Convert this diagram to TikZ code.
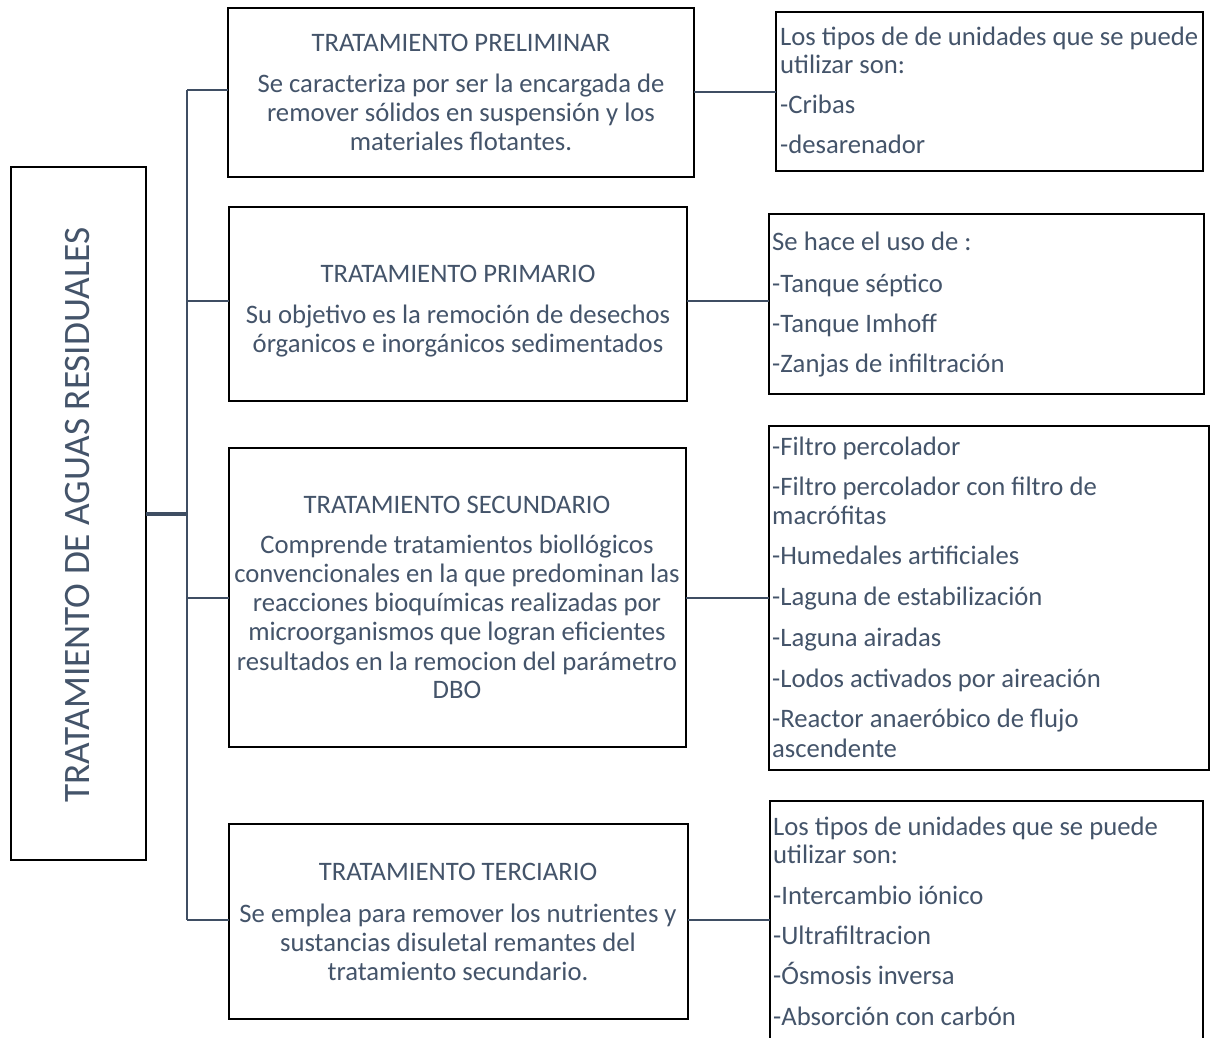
\documentclass[tikz,border=0pt]{standalone}
\usepackage{fontspec}
\setmainfont{Carlito}
\definecolor{txt}{HTML}{44546A}
\definecolor{ln}{HTML}{3F4E63}
\begin{document}
\begin{tikzpicture}[x=1pt,y=-1pt,
  box/.style={draw=black, line width=1.7pt, inner sep=0pt, outer sep=0pt, fill=white},
  conn/.style={draw=ln, line width=2.8pt},
  ctext/.style={anchor=base, text=txt, inner sep=0pt, font=\fontsize{26.67}{29.3}\selectfont},
  item/.style={anchor=base west, text=txt, inner sep=0pt, font=\fontsize{26.67}{29.3}\selectfont},
]
\clip (0,0) rectangle (1216,1038);
\fill[white] (0,0) rectangle (1216,1038);

% boxes
\node[box, minimum width=135, minimum height=693] (L) at (78.5,513.5) {};
\node[box, minimum width=466, minimum height=169] (b1) at (461,92.5) {};
\node[box, minimum width=458, minimum height=194] (b2) at (458,304) {};
\node[box, minimum width=457, minimum height=299] (b3) at (457.5,597.5) {};
\node[box, minimum width=459, minimum height=195] (b4) at (458.5,921.5) {};
\node[box, minimum width=427, minimum height=159] (r1) at (989.5,91.5) {};
\node[box, minimum width=435, minimum height=180] (r2) at (986.5,304) {};
\node[box, minimum width=440, minimum height=344] (r3) at (989,598) {};
\node[box, minimum width=433, minimum height=259] (r4) at (986.5,930.5) {};

% left rotated title
\node[anchor=base, rotate=90, text=txt, inner sep=0pt, font=\fontsize{37.3}{40}\selectfont] (Lt) at (89.5,515) {TRATAMIENTO DE AGUAS RESIDUALES};

% connectors
\coordinate (jm) at (187,514);
\coordinate (jt) at (187,90);
\coordinate (jb) at (187,920);
\draw[ln, line width=4.3pt] (L.east |- jm) -- (jm);
\draw[conn] (jt) -- (jb);
\draw[conn] (jt) -- (jt -| b1.west);
\draw[conn] (187,301) -- (b2.west |- 0,301);
\draw[conn] (187,598) -- (b3.west |- 0,598);
\draw[conn] (jb) -- (jb -| b4.west);
\draw[conn] (b1.east |- 0,92) -- (r1.west |- 0,92);
\draw[conn] (b2.east |- 0,301) -- (r2.west |- 0,301);
\draw[conn] (b3.east |- 0,598) -- (r3.west |- 0,598);
\draw[conn] (b4.east |- 0,920) -- (r4.west |- 0,920);

% box 1
\node[ctext] (b1t) at (461,52) {TRATAMIENTO PRELIMINAR};
\foreach \y/\t [count=\i] in {93/{Se caracteriza por ser la encargada de},122/{remover sólidos en suspensión y los},150/{materiales flotantes.}}
  \node[ctext] (b1l\i) at (461,\y) {\t};
% box 2
\node[ctext] (b2t) at (458,282) {TRATAMIENTO PRIMARIO};
\foreach \y/\t [count=\i] in {323/{Su objetivo es la remoción de desechos},352/{órganicos e inorgánicos sedimentados}}
  \node[ctext] (b2l\i) at (458,\y) {\t};
% box 3
\node[ctext] (b3t) at (457,513) {TRATAMIENTO SECUNDARIO};
\foreach \y/\t [count=\i] in {553/{Comprende tratamientos biollógicos},582/{convencionales en la que predominan las},611/{reacciones bioquímicas realizadas por},640/{microorganismos que logran eficientes},670/{resultados en la remocion del parámetro},698/{DBO}}
  \node[ctext] (b3l\i) at (457,\y) {\t};
% box 4
\node[ctext] (b4t) at (458,880) {TRATAMIENTO TERCIARIO};
\foreach \y/\t [count=\i] in {922/{Se emplea para remover los nutrientes y},951/{sustancias disuletal remantes del},980/{tratamiento secundario.}}
  \node[ctext] (b4l\i) at (458,\y) {\t};

% right boxes
\foreach \y/\t [count=\i] in {46/{Los tipos de de unidades que se puede},74/{utilizar son:},114/{-Cribas},154/{-desarenador}}
  \node[item] (r1l\i) at (780,\y) {\t};
\foreach \y/\t [count=\i] in {250/{Se hace el uso de :},292/{-Tanque séptico},332/{-Tanque Imhoff},372/{-Zanjas de infiltración}}
  \node[item] (r2l\i) at (772,\y) {\t};
\foreach \y/\t [count=\i] in {455/{-Filtro percolador},495/{-Filtro percolador con filtro de},524/{macrófitas},564/{-Humedales artificiales},605/{-Laguna de estabilización},646/{-Laguna airadas},687/{-Lodos activados por aireación},727/{-Reactor anaeróbico de flujo},757/{ascendente}}
  \node[item] (r3l\i) at (772,\y) {\t};
\foreach \y/\t [count=\i] in {835/{Los tipos de unidades que se puede},863/{utilizar son:},904/{-Intercambio iónico},944/{-Ultrafiltracion},984/{-Ósmosis inversa},1025/{-Absorción con carbón}}
  \node[item] (r4l\i) at (773,\y) {\t};
\end{tikzpicture}
\end{document}
